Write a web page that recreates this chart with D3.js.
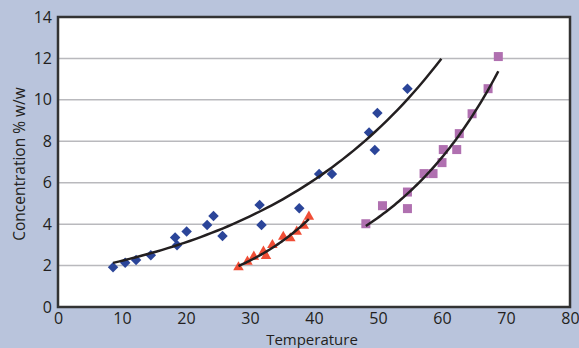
<!DOCTYPE html>
<html>
<head>
<meta charset="utf-8">
<script src="https://cdn.jsdelivr.net/npm/d3@7"></script>
<style>
  body { margin: 0; background: #b9c4dc; }
  svg { display: block; font-family: "Open Sans", "Noto Sans", sans-serif; }
</style>
</head>
<body>
<svg id="chart" width="579" height="348"></svg>
<script>
// blue diamonds
const blueX = [8.6, 10.5, 12.2, 14.5, 18.3, 18.6, 20.1, 23.3, 24.3, 25.7, 31.5, 31.8, 37.7, 40.8, 42.8, 48.6, 49.5, 49.9, 54.6]
const blueY = [1.92, 2.14, 2.27, 2.5, 3.35, 2.98, 3.64, 3.96, 4.39, 3.43, 4.93, 3.96, 4.77, 6.42, 6.42, 8.42, 7.58, 9.37, 10.54]

// red triangles
const redX = [28.2, 29.6, 30.6, 32.1, 32.5, 33.5, 35.2, 36.3, 37.3, 38.4, 39.2]
const redY = [1.92, 2.19, 2.43, 2.67, 2.46, 2.99, 3.39, 3.32, 3.64, 3.93, 4.36]

// purple squares
const purpleX = [48.1, 50.7, 54.6, 54.6, 57.2, 58.6, 60.0, 60.2, 62.3, 62.7, 64.7, 67.2, 68.8]
const purpleY = [4.02, 4.89, 4.75, 5.55, 6.44, 6.44, 6.97, 7.6, 7.6, 8.37, 9.33, 10.54, 12.09]

const xTicks = [0, 10, 20, 30, 40, 50, 60, 70, 80]
const yTicks = [0, 2, 4, 6, 8, 10, 12, 14]

const blueForward = 5.3

const svg = d3.select("#chart")
const mLeft = 58, mRight = 570, mTop = 17, mBottom = 307

const x = d3.scaleLinear().domain([0, 80]).range([mLeft, mRight])
const y = d3.scaleLinear().domain([0, 14]).range([mBottom, mTop])

svg.append("rect")
    .attr("x", mLeft).attr("y", mTop)
    .attr("width", mRight - mLeft).attr("height", mBottom - mTop)
    .attr("fill", "white")

// gridlines
svg.append("g")
    .selectAll("line")
    .data(yTicks.filter(d => d > 0 && d < 14))
    .enter().append("line")
    .attr("x1", mLeft).attr("x2", mRight)
    .attr("y1", d => y(d)).attr("y2", d => y(d))
    .attr("stroke", "#b9b9bd")
    .attr("stroke-width", 1.5)

// exponential trend (least squares on ln y)
function expFit(xs, ys) {
    const n = xs.length
    const ly = ys.map(Math.log)
    const mx = d3.mean(xs), my = d3.mean(ly)
    let sxy = 0, sxx = 0
    for (let i = 0; i < n; i++) {
        sxy += (xs[i] - mx) * (ly[i] - my)
        sxx += (xs[i] - mx) * (xs[i] - mx)
    }
    const b = sxy / sxx
    const a = Math.exp(my - b * mx)
    return t => a * Math.exp(b * t)
}

function trend(xs, ys, forward) {
    const f = expFit(xs, ys)
    const x0 = d3.min(xs), x1 = d3.max(xs) + forward
    const pts = d3.range(0, 61).map(i => x0 + (x1 - x0) * i / 60)
    svg.append("path")
        .datum(pts)
        .attr("fill", "none")
        .attr("stroke", "#231f20")
        .attr("stroke-width", 2.5)
        .attr("d", d3.line().x(d => x(d)).y(d => y(f(d))))
}

// points
const diamond = d3.symbol().type(d3.symbolDiamond2).size(70)
svg.append("g")
    .selectAll("path")
    .data(blueX)
    .enter().append("path")
    .attr("d", diamond)
    .attr("transform", (d, i) => `translate(${x(d)},${y(blueY[i])})`)
    .attr("fill", "#2b4599")

const tri = d3.symbol().type(d3.symbolTriangle).size(48)
svg.append("g")
    .selectAll("path")
    .data(redX)
    .enter().append("path")
    .attr("d", tri)
    .attr("transform", (d, i) => `translate(${x(d)},${y(redY[i])})`)
    .attr("fill", "#f04e36")

svg.append("g")
    .selectAll("rect")
    .data(purpleX)
    .enter().append("rect")
    .attr("x", d => x(d) - 4.5)
    .attr("y", (d, i) => y(purpleY[i]) - 4.5)
    .attr("width", 9).attr("height", 9)
    .attr("fill", "#b070b0")

trend(blueX, blueY, blueForward)
trend(redX, redY, 0)
trend(purpleX, purpleY, 0)

// frame
svg.append("rect")
    .attr("x", mLeft).attr("y", mTop)
    .attr("width", mRight - mLeft).attr("height", mBottom - mTop)
    .attr("fill", "none")
    .attr("stroke", "#333")
    .attr("stroke-width", 2.5)

// axes
const xAxis = svg.append("g")
    .attr("transform", `translate(0,${mBottom})`)
    .call(d3.axisBottom(x).tickValues(xTicks).tickSize(0).tickPadding(6))
const yAxis = svg.append("g")
    .attr("transform", `translate(${mLeft},0)`)
    .call(d3.axisLeft(y).tickValues(yTicks).tickSize(0).tickPadding(6))
xAxis.select(".domain").remove()
yAxis.select(".domain").remove()
svg.selectAll(".tick text")
    .attr("font-size", 16)
    .attr("font-family", "'Open Sans', sans-serif")
    .attr("fill", "#231f20")

svg.append("text")
    .attr("x", (mLeft + mRight) / 2 - 2)
    .attr("y", 344.5)
    .attr("text-anchor", "middle")
    .attr("font-size", 15)
    .attr("fill", "#231f20")
    .text("Temperature")

svg.append("text")
    .attr("transform", `translate(25,${(mTop + mBottom) / 2 + 2}) rotate(-90)`)
    .attr("text-anchor", "middle")
    .attr("font-size", 15.5)
    .attr("fill", "#231f20")
    .text("Concentration % w/w")
</script>
</body>
</html>
